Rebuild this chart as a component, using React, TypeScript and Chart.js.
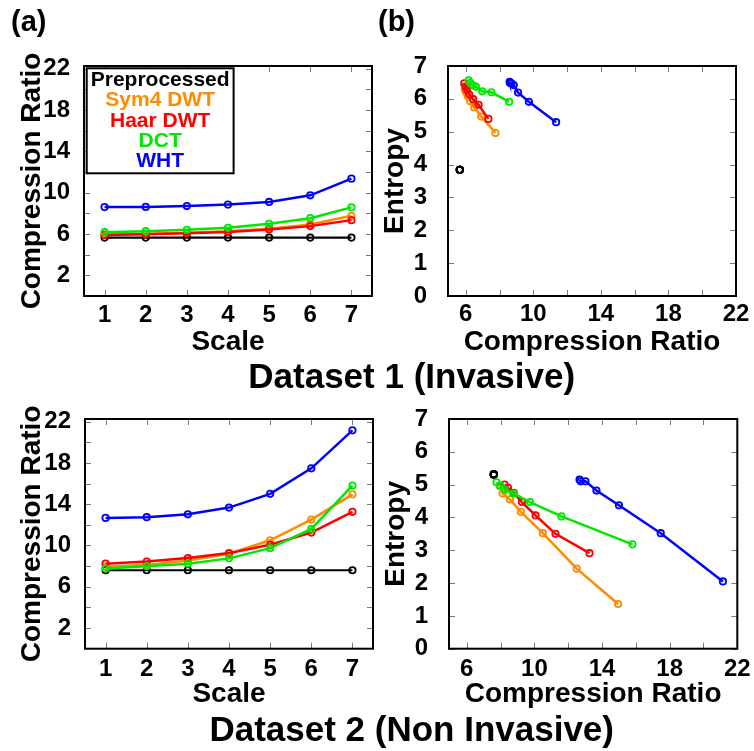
import React, { useEffect, useRef } from "react";
import { Chart, registerables } from "chart.js";

Chart.register(...registerables);

// ---------------- data ----------------
const seriesNames = ["Preprocessed", "Sym4 DWT", "Haar DWT", "DCT", "WHT"];
const scaleLabels = ["1", "2", "3", "4", "5", "6", "7"];

// Dataset 1 (Invasive): compression ratio per scale
const d1Pre = [5.65, 5.65, 5.65, 5.65, 5.65, 5.65, 5.65];
const d1Sym4 = [5.95, 6.02, 6.12, 6.26, 6.5, 6.92, 7.76];
const d1Haar = [5.91, 5.98, 6.08, 6.2, 6.44, 6.76, 7.34];
const d1Dct = [6.17, 6.27, 6.4, 6.6, 6.98, 7.53, 8.57];
const d1Wht = [8.6, 8.62, 8.7, 8.84, 9.1, 9.74, 11.35];
// Dataset 1 entropy per scale
const e1Pre = [3.84, 3.84, 3.84, 3.84, 3.84, 3.84, 3.84];
const e1Sym4 = [6.27, 6.2, 6.08, 5.93, 5.74, 5.46, 4.96];
const e1Haar = [6.47, 6.37, 6.27, 6.14, 5.99, 5.82, 5.39];
const e1Dct = [6.56, 6.49, 6.42, 6.37, 6.23, 6.2, 5.91];
const e1Wht = [6.52, 6.48, 6.47, 6.42, 6.19, 5.91, 5.29];

// Dataset 2 (Non Invasive): compression ratio per scale
const d2Pre = [7.6, 7.6, 7.6, 7.6, 7.6, 7.6, 7.6];
const d2Sym4 = [7.95, 8.12, 8.55, 9.2, 10.5, 12.5, 14.95];
const d2Haar = [8.24, 8.44, 8.78, 9.26, 10.07, 11.25, 13.26];
const d2Dct = [7.76, 7.98, 8.24, 8.75, 9.74, 11.6, 15.8];
const d2Wht = [12.67, 12.74, 13.02, 13.67, 15.0, 17.47, 21.15];
// Dataset 2 entropy per scale
const e2Pre = [5.31, 5.31, 5.31, 5.31, 5.31, 5.31, 5.31];
const e2Sym4 = [4.95, 4.73, 4.55, 4.17, 3.52, 2.44, 1.36];
const e2Haar = [5.0, 4.9, 4.75, 4.47, 4.06, 3.5, 2.91];
const e2Dct = [5.07, 4.97, 4.85, 4.73, 4.47, 4.03, 3.18];
const e2Wht = [5.15, 5.1, 5.1, 4.82, 4.37, 3.52, 2.05];

// tick values / labels
const crLabelTicks = [2, 6, 10, 14, 18, 22];
const crMinorTicks = [4, 8, 12, 16, 20];
const crXLabelTicks = [6, 10, 14, 18, 22];
const crXMinorTicks = [8, 12, 16, 20];
const entropyTicks = [0, 1, 2, 3, 4, 5, 6, 7];

// ---------------- styles ----------------
const seriesColors = ["#000000", "#ff8c00", "#ff0000", "#00e800", "#0000ff"];
const FAMILY = '"Liberation Sans", Arial, Helvetica, sans-serif';
const tickFont = { family: FAMILY, size: 24, weight: "bold" as const };
const titleFont = { family: FAMILY, size: 28, weight: "bold" as const };

const framePlugin = {
  id: "frame",
  afterDraw(chart: any) {
    const { ctx, chartArea } = chart;
    const { left, top, right, bottom } = chartArea;
    const xs = chart.scales.x;
    const ys = chart.scales.y;
    ctx.save();
    ctx.strokeStyle = "#7a7a7a";
    ctx.lineWidth = 1;
    ctx.beginPath();
    xs.ticks.forEach((_t: any, i: number) => {
      const px = Math.round(xs.getPixelForTick(i)) + 0.5;
      ctx.moveTo(px, bottom);
      ctx.lineTo(px, bottom - 6);
      ctx.moveTo(px, top);
      ctx.lineTo(px, top + 6);
    });
    ys.ticks.forEach((_t: any, i: number) => {
      const py = Math.round(ys.getPixelForTick(i)) + 0.5;
      ctx.moveTo(left, py);
      ctx.lineTo(left + 6, py);
      ctx.moveTo(right, py);
      ctx.lineTo(right - 6, py);
    });
    ctx.stroke();
    ctx.strokeStyle = "#000";
    ctx.lineWidth = 2;
    ctx.strokeRect(left, top, right - left, bottom - top);
    ctx.restore();
  },
};

const boxLegendPlugin = {
  id: "boxLegend",
  afterDraw(chart: any) {
    const { ctx, chartArea } = chart;
    ctx.save();
    ctx.font = `bold 21px ${FAMILY}`;
    const items = chart.data.datasets.map((d: any) => ({ text: d.label, color: d.borderColor }));
    const maxW = Math.max(...items.map((it: any) => ctx.measureText(it.text).width));
    const lineH = 20.4;
    const bx = chartArea.left + 2.7;
    const by = chartArea.top + 2.3;
    const bw = maxW + 8;
    const bh = items.length * lineH + 3;
    ctx.fillStyle = "#fff";
    ctx.fillRect(bx, by, bw, bh);
    ctx.lineWidth = 2;
    ctx.strokeStyle = "#000";
    ctx.strokeRect(bx, by, bw, bh);
    ctx.textAlign = "center";
    ctx.textBaseline = "middle";
    items.forEach((it: any, k: number) => {
      ctx.fillStyle = it.color;
      ctx.fillText(it.text, bx + bw / 2, by + 11.7 + k * lineH);
    });
    ctx.restore();
  },
};

function styleFor(i: number) {
  const c = seriesColors[i];
  return {
    label: seriesNames[i],
    borderColor: c,
    backgroundColor: c,
    borderWidth: i === 0 ? 2.2 : 2.5,
    pointRadius: 3.2,
    pointBorderWidth: 1.8,
    pointBackgroundColor: "rgba(255,255,255,0)",
    pointBorderColor: c,
    pointStyle: "circle",
    tension: 0,
    order: seriesNames.length - 1 - i,
  };
}

type Box = { yW: number; xH: number; top: number; right: number; yTitlePad: number; xTitlePad: number; xTickPad: number };

function lineConfig(series: number[][], box: Box, legend: boolean) {
  return {
    type: "line",
    data: {
      labels: scaleLabels,
      datasets: series.map((s, i) => ({ ...styleFor(i), data: s })),
    },
    plugins: legend ? [framePlugin, boxLegendPlugin] : [framePlugin],
    options: {
      animation: false,
      responsive: false,
      layout: { padding: { left: 0, top: box.top, right: box.right, bottom: 0 } },
      plugins: { legend: { display: false }, tooltip: { enabled: false } },
      scales: {
        x: {
          type: "category",
          offset: true,
          grid: { display: false },
          border: { display: false },
          ticks: { font: tickFont, color: "#000", padding: box.xTickPad, maxRotation: 0, autoSkip: false },
          title: { display: true, text: "Scale", font: titleFont, color: "#000", padding: { top: 0, bottom: box.xTitlePad } },
          afterFit: (s: any) => { s.height = box.xH; },
        },
        y: {
          type: "linear",
          min: 0,
          max: 22.25,
          grid: { display: false },
          border: { display: false },
          afterBuildTicks: (s: any) => {
            s.ticks = [...crLabelTicks, ...crMinorTicks].sort((a, b) => a - b).map((v) => ({ value: v }));
          },
          ticks: {
            font: tickFont,
            color: "#000",
            padding: 6,
            autoSkip: false,
            callback: (v: any) => (crLabelTicks.includes(Number(v)) ? String(v) : ""),
          },
          title: { display: true, text: "Compression Ratio", font: titleFont, color: "#000", padding: { top: box.yTitlePad, bottom: 0 } },
          afterFit: (s: any) => { s.width = box.yW; },
        },
      },
    },
  };
}

function scatterConfig(cr: number[][], ent: number[][], box: Box) {
  return {
    type: "scatter",
    data: {
      datasets: cr.map((s, i) => ({
        ...styleFor(i),
        showLine: true,
        data: s.map((x, k) => ({ x, y: ent[i][k] })),
      })),
    },
    plugins: [framePlugin],
    options: {
      animation: false,
      responsive: false,
      layout: { padding: { left: 0, top: box.top, right: box.right, bottom: 0 } },
      plugins: { legend: { display: false }, tooltip: { enabled: false } },
      scales: {
        x: {
          type: "linear",
          min: 4.95,
          max: 22,
          grid: { display: false },
          border: { display: false },
          afterBuildTicks: (s: any) => {
            s.ticks = [...crXLabelTicks, ...crXMinorTicks].sort((a, b) => a - b).map((v) => ({ value: v }));
          },
          ticks: {
            font: tickFont,
            color: "#000",
            padding: box.xTickPad,
            maxRotation: 0,
            autoSkip: false,
            callback: (v: any) => (crXLabelTicks.includes(Number(v)) ? String(v) : ""),
          },
          title: { display: true, text: "Compression Ratio", font: titleFont, color: "#000", padding: { top: 0, bottom: box.xTitlePad } },
          afterFit: (s: any) => { s.height = box.xH; },
        },
        y: {
          type: "linear",
          min: 0,
          max: 7,
          grid: { display: false },
          border: { display: false },
          afterBuildTicks: (s: any) => {
            s.ticks = entropyTicks.map((v) => ({ value: v }));
          },
          ticks: { font: tickFont, color: "#000", padding: 13, autoSkip: false },
          title: { display: true, text: "Entropy", font: titleFont, color: "#000", padding: { top: box.yTitlePad, bottom: 0 } },
          afterFit: (s: any) => { s.width = box.yW; },
        },
      },
    },
  };
}

function ChartBox(props: { left: number; top: number; width: number; height: number; config: any }) {
  const ref = useRef<HTMLCanvasElement | null>(null);
  useEffect(() => {
    if (!ref.current) return;
    const chart = new Chart(ref.current, props.config);
    return () => chart.destroy();
  }, []);
  return (
    <div style={{ position: "absolute", left: props.left, top: props.top, width: props.width, height: props.height }}>
      <canvas ref={ref} width={props.width} height={props.height} style={{ display: "block" }} />
    </div>
  );
}

const labelStyle: React.CSSProperties = {
  position: "absolute",
  fontFamily: FAMILY,
  fontWeight: "bold",
  color: "#000",
  lineHeight: 1,
  whiteSpace: "nowrap",
};

export default function App() {
  const a1 = lineConfig([d1Pre, d1Sym4, d1Haar, d1Dct, d1Wht],
    { yW: 84, xH: 64, top: 66, right: 8, yTitlePad: 15, xTitlePad: 1, xTickPad: -3 }, true);
  const b1 = scatterConfig([d1Pre, d1Sym4, d1Haar, d1Dct, d1Wht], [e1Pre, e1Sym4, e1Haar, e1Dct, e1Wht],
    { yW: 72, xH: 64, top: 66, right: 18, yTitlePad: 2, xTitlePad: 1, xTickPad: -4 });
  const a2 = lineConfig([d2Pre, d2Sym4, d2Haar, d2Dct, d2Wht],
    { yW: 85, xH: 63.3, top: 64, right: 7, yTitlePad: 15, xTitlePad: 1, xTickPad: -2 }, false);
  const b2 = scatterConfig([d2Pre, d2Sym4, d2Haar, d2Dct, d2Wht], [e2Pre, e2Sym4, e2Haar, e2Dct, e2Wht],
    { yW: 73, xH: 63.3, top: 64, right: 16.7, yTitlePad: 3, xTitlePad: 1, xTickPad: -2 });

  return (
    <div style={{ position: "absolute", left: 0, top: 0, width: 754, height: 751, overflow: "hidden", background: "#fff" }}>
      <ChartBox left={0} top={0} width={380} height={360} config={a1} />
      <ChartBox left={376} top={0} width={378} height={360} config={b1} />
      <ChartBox left={0} top={355} width={380} height={357} config={a2} />
      <ChartBox left={376} top={355} width={378} height={357} config={b2} />
      <div style={{ ...labelStyle, left: 11, top: 6.6, fontSize: 29 }}>(a)</div>
      <div style={{ ...labelStyle, left: 378, top: 6.6, fontSize: 29 }}>(b)</div>
      <div style={{ ...labelStyle, left: 411.7, top: 358, fontSize: 35, transform: "translateX(-50%)" }}>Dataset 1 (Invasive)</div>
      <div style={{ ...labelStyle, left: 411.7, top: 711, fontSize: 35, transform: "translateX(-50%)" }}>Dataset 2 (Non Invasive)</div>
    </div>
  );
}
